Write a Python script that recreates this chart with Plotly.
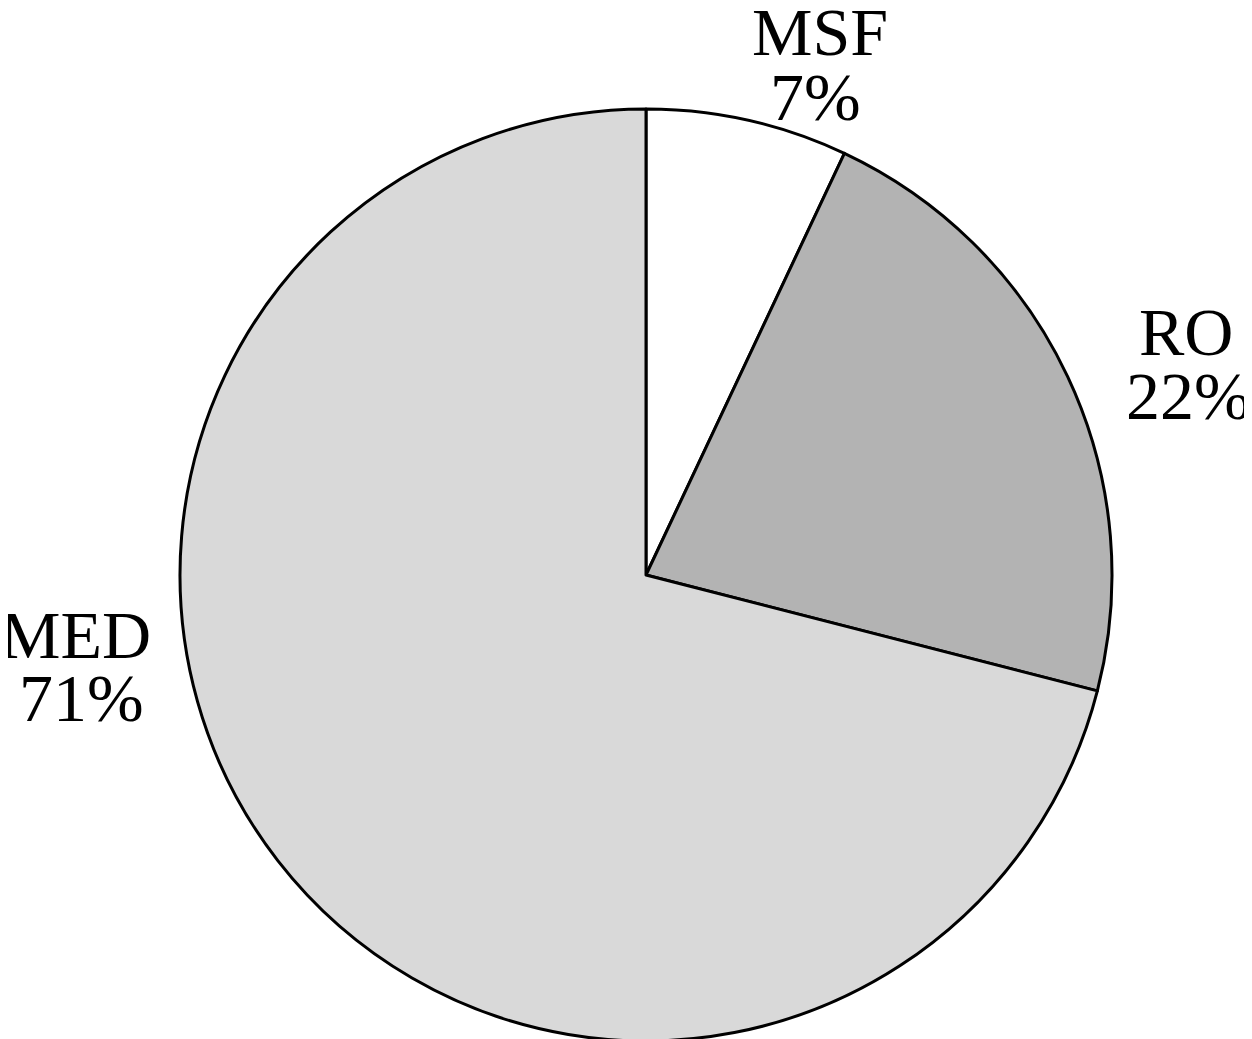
import plotly.graph_objects as go

labels = ["MSF", "RO", "MED"]
values = [7, 22, 71]
colors = ["#ffffff", "#b3b3b3", "#d9d9d9"]

W, H = 1252, 1039
OFF = 8  # page body margin shifts the figure by 8px
cx, cy, r = 646 - OFF, 575 - OFF, 466  # pie centre (px from top-left of figure) and radius

fig = go.Figure(go.Pie(
    labels=labels,
    values=values,
    sort=False,
    direction="clockwise",
    rotation=0,
    marker=dict(colors=colors, line=dict(color="#000000", width=3)),
    textinfo="none",
    hoverinfo="label+percent",
    showlegend=False,
    domain=dict(x=[(cx - r) / W, (cx + r) / W],
                y=[(H - cy - r) / H, (H - cy + r) / H]),
))

# label placement: (x of name, y of name, x of pct, y of pct) in reference pixels
label_pos = {
    "MSF": (820, 35, 816, 100),
    "RO": (1186, 335, 1188, 399),
    "MED": (75, 638, 81, 701),
}
font = dict(family="Liberation Serif", size=68, color="#000000")
anns = []
for lab, val in zip(labels, values):
    x1, y1, x2, y2 = label_pos[lab]
    for txt, x, y in ((lab, x1, y1), (f"{val}%", x2, y2)):
        anns.append(dict(text=txt, x=(x - OFF) / W, y=1 - (y - OFF - 3) / H,
                         xref="paper", yref="paper", showarrow=False,
                         xanchor="center", yanchor="middle", font=font))

fig.update_layout(
    width=W, height=H,
    margin=dict(l=0, r=0, t=0, b=0),
    paper_bgcolor="#ffffff",
    plot_bgcolor="#ffffff",
    annotations=anns,
)

fig.write_html("out.html")
